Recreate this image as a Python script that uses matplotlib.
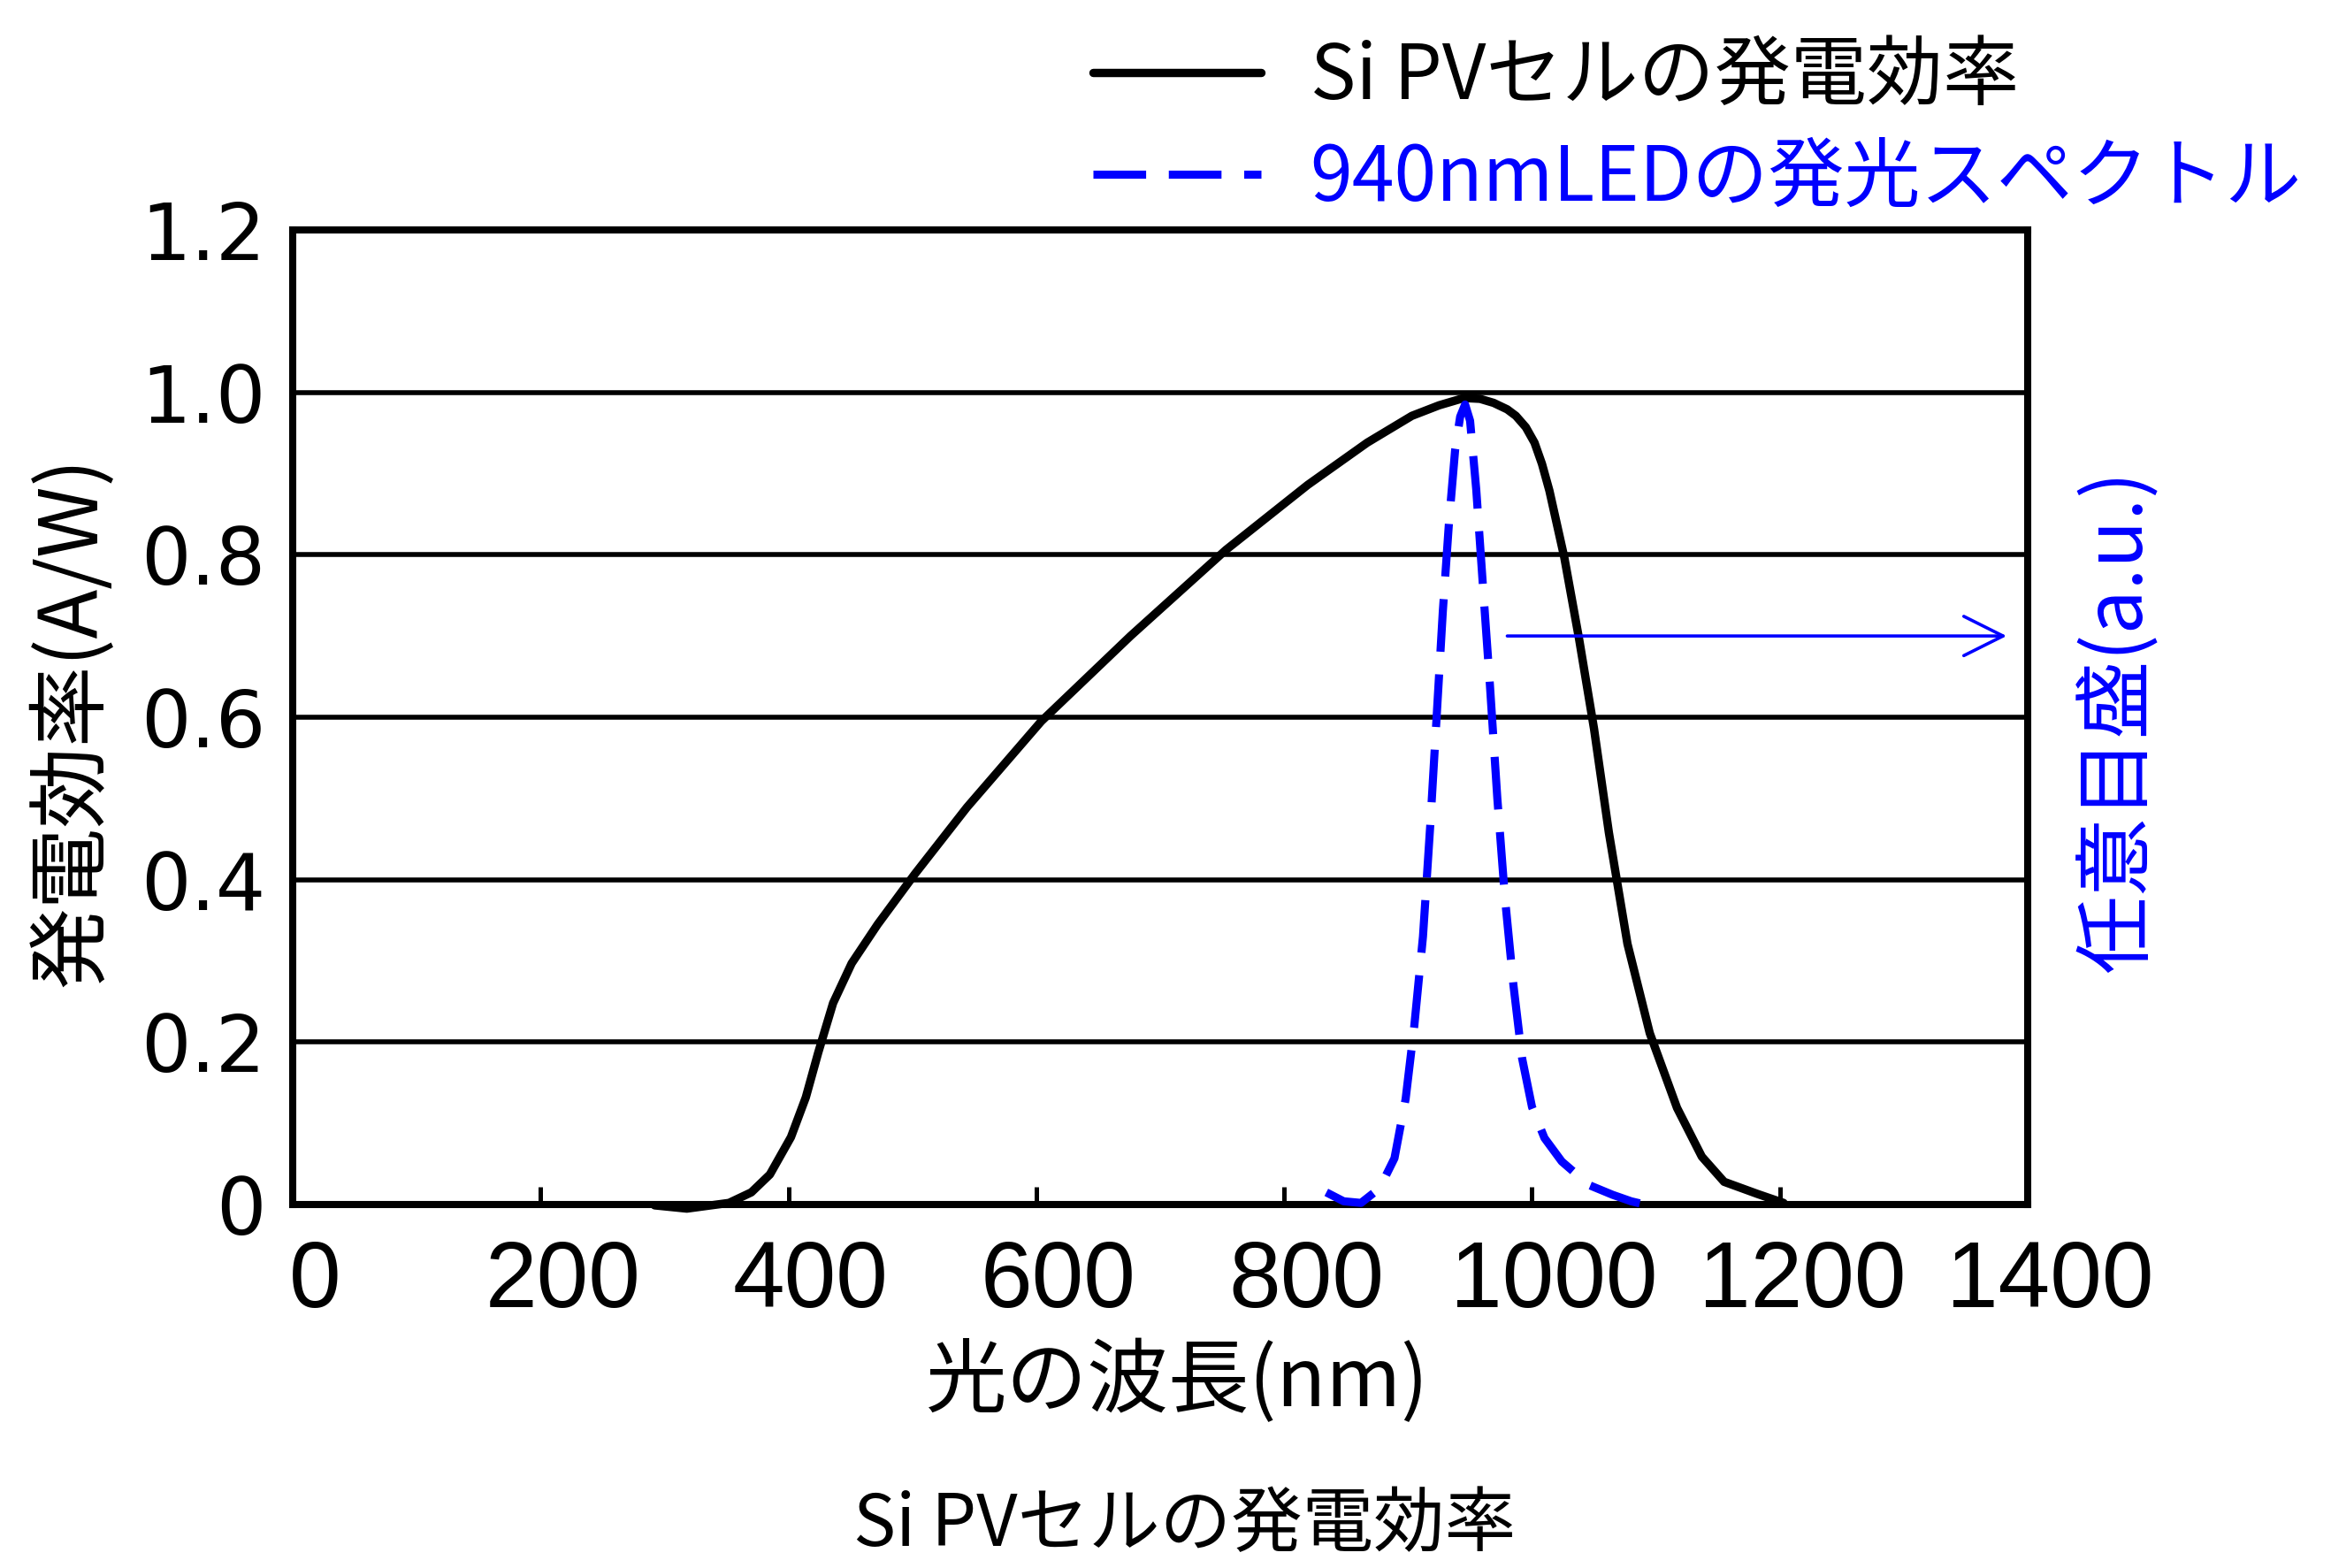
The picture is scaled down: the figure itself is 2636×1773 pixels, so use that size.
import matplotlib
matplotlib.use("Agg")
import matplotlib.pyplot as plt
from matplotlib import font_manager
from matplotlib.transforms import ScaledTranslation

# Si PV cell response (A/W)
pv_wavelength = [292, 318, 352, 370, 385, 402, 414, 424, 436, 451, 472, 502, 544, 604, 676, 753,
                 819, 867, 903, 925, 945, 958, 969, 980, 987, 995, 1002, 1008, 1014, 1026, 1038,
                 1050, 1062, 1077, 1095, 1117, 1137, 1155, 1182, 1203]
pv_response = [-0.001, -0.005, 0.002, 0.015, 0.037, 0.083, 0.132, 0.187, 0.248, 0.297, 0.345, 0.407,
               0.489, 0.595, 0.700, 0.806, 0.886, 0.938, 0.971, 0.984, 0.993, 0.992, 0.987, 0.979,
               0.971, 0.957, 0.938, 0.912, 0.879, 0.797, 0.696, 0.586, 0.458, 0.321, 0.211, 0.119,
               0.059, 0.028, 0.013, 0.002]

# 940nm LED spectrum (a.u.)
led_wavelength = [834, 848, 862, 877, 889, 898, 905, 912, 918, 923, 928, 933, 938, 942, 946, 950,
                  955, 960, 966, 972, 978, 985, 992, 1000, 1010, 1024, 1046, 1065, 1080, 1091]
led_intensity = [0.015, 0.004, 0.002, 0.02, 0.057, 0.13, 0.22, 0.33, 0.47, 0.60, 0.73, 0.84, 0.93,
                 0.97, 0.985, 0.965, 0.88, 0.77, 0.64, 0.50, 0.38, 0.27, 0.18, 0.12, 0.082, 0.053,
                 0.024, 0.012, 0.004, 0.0]

x_ticks = [0, 200, 400, 600, 800, 1000, 1200, 1400]
y_ticks = [0, 0.2, 0.4, 0.6, 0.8, 1.0, 1.2]
y_tick_labels = ["0", "0.2", "0.4", "0.6", "0.8", "1.0", "1.2"]

jp = ["Noto Sans CJK JP", "DejaVu Sans"]
installed = {f.name for f in font_manager.fontManager.ttflist}
narrow = "Liberation Sans Narrow" if "Liberation Sans Narrow" in installed else "Liberation Sans"

fig = plt.figure(figsize=(13.18, 8.865), dpi=200)
ax = fig.add_axes([0.1256, 0.2318, 0.7443, 0.6216])

for y in y_ticks[1:-1]:
    ax.axhline(y, color="black", lw=2.0, zorder=1)

ax.plot(pv_wavelength, pv_response, color="black", lw=3.4, label="Si PVセルの発電効率",
        zorder=3, clip_on=False, solid_capstyle="round", solid_joinstyle="round")
ax.plot(led_wavelength, led_intensity, color="blue", lw=3.3, ls=(0, (6.5, 2.8)),
        label="940nmLEDの発光スペクトル", zorder=4, clip_on=False)

ax.annotate("", xy=(1383, 0.70), xytext=(980, 0.70),
            arrowprops=dict(arrowstyle="->", color="blue", lw=1.3, mutation_scale=40,
                            shrinkA=0, shrinkB=0))

ax.set_xlim(0, 1400)
ax.set_ylim(0, 1.2)
ax.set_xticks(x_ticks)
ax.set_yticks(y_ticks)
ax.set_yticklabels(y_tick_labels, fontfamily="DejaVu Sans", fontsize=32)
ax.set_xticklabels([str(v) for v in x_ticks], fontfamily=narrow, fontsize=38)
ax.tick_params(axis="x", direction="in", length=7.2, width=1.8, pad=14)
ax.tick_params(axis="y", length=0, pad=11)
for lbl in ax.get_xticklabels():
    lbl.set_transform(lbl.get_transform() + ScaledTranslation(9 / 72, 0, fig.dpi_scale_trans))
for s in ax.spines.values():
    s.set_linewidth(2.9)

fig.text(0.031, 0.540, "発電効率(A/W)", rotation=90, ha="center", va="center",
         fontsize=33, family=jp)
fig.text(0.909, 0.540, "任意目盛(a.u.)", rotation=90, ha="center", va="center",
         fontsize=32, family=jp, color="blue")
fig.text(0.505, 0.1185, "光の波長(nm)", ha="center", va="center", fontsize=33, family=jp)
fig.text(0.508, 0.027, "Si PVセルの発電効率", ha="center", va="center", fontsize=29, family=jp)

fig.legend(loc="center left", bbox_to_anchor=(0.469, 0.918), frameon=False, borderpad=0,
           borderaxespad=0, handlelength=2.2, handletextpad=0.65, labelspacing=0.31,
           labelcolor="linecolor", prop={"family": jp, "size": 31})

fig.savefig("out.png", dpi=200)
